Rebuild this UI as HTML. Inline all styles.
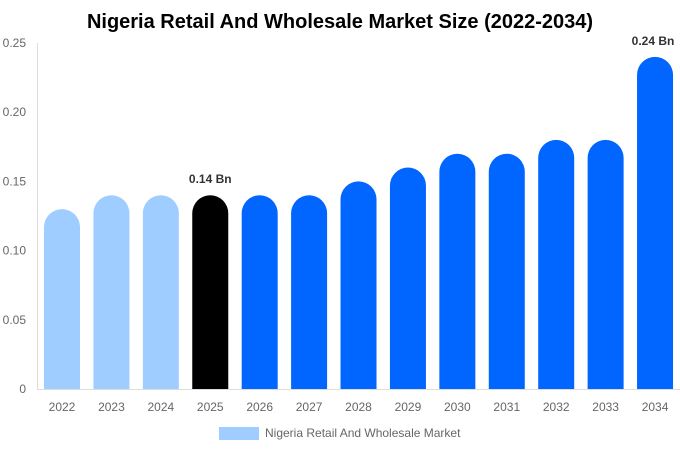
<!DOCTYPE html>
<html><head><meta charset="utf-8">
<style>
body{margin:0;background:#fff;font-family:"Liberation Sans",Arial,sans-serif;}
svg{display:block}
</style></head>
<body>
<svg id="chart" width="680" height="450">
<text x="340" y="28" text-anchor="middle" font-size="20" font-weight="bold" fill="#000">Nigeria Retail And Wholesale Market Size (2022-2034)</text>
<line x1="37.5" y1="43" x2="37.5" y2="389.5" stroke="#ddd"/>
<line x1="37" y1="389.5" x2="680" y2="389.5" stroke="#ddd"/>
<g id="yticks"></g>
<g id="bars"></g>
<g id="xlabels"></g>
<g id="labels"></g>
<rect x="219" y="427" width="40" height="13" fill="#a0cdff"/>
<text x="265" y="437" font-size="12" fill="#666">Nigeria Retail And Wholesale Market</text>
</svg>
<script>
const categories=["2022","2023","2024","2025","2026","2027","2028","2029","2030","2031","2032","2033","2034"];
const values=[0.13,0.14,0.14,0.14,0.14,0.14,0.15,0.16,0.17,0.17,0.18,0.18,0.24];
const colorGroups=["hist","hist","hist","current","fore","fore","fore","fore","fore","fore","fore","fore","fore"];
const yTicks=[0,0.05,0.10,0.15,0.20,0.25];
const yTickLabels=["0","0.05","0.10","0.15","0.20","0.25"];
const valueLabels={3:"0.14 Bn",12:"0.24 Bn"};
const ns="http://www.w3.org/2000/svg";
const y0=389,yMax=0.25,plotH=346;
function yScale(v){return y0-v/yMax*plotH;}
function xScale(i){return 62+i*49.42;}
const colors={hist:"#a0cdff",current:"#000000",fore:"#0066ff"};
const bw=36;
yTicks.forEach((t,i)=>{
  const tx=document.createElementNS(ns,"text");
  
  
  tx.setAttribute("x",26);tx.setAttribute("y",yScale(t)+4);
  tx.setAttribute("text-anchor","end");tx.setAttribute("font-size","12");tx.setAttribute("fill","#666");
  tx.textContent=yTickLabels[i];
  document.getElementById("yticks").appendChild(tx);
});
values.forEach((v,i)=>{
  const cx=xScale(i),top=yScale(v),r=bw/2,l=cx-r;
  const p=document.createElementNS(ns,"path");
  
  
  p.setAttribute("d",`M${l},${y0} L${l},${top+r} A${r},${r} 0 0 1 ${l+bw},${top+r} L${l+bw},${y0} Z`);
  p.setAttribute("fill",colors[colorGroups[i]]);
  document.getElementById("bars").appendChild(p);
  const tx=document.createElementNS(ns,"text");
  
  
  tx.setAttribute("x",cx);tx.setAttribute("y",411);
  tx.setAttribute("text-anchor","middle");tx.setAttribute("font-size","12");tx.setAttribute("fill","#666");
  tx.textContent=categories[i];
  document.getElementById("xlabels").appendChild(tx);
  if(valueLabels[i]){
    const lb=document.createElementNS(ns,"text");
    
    
    lb.setAttribute("x",Math.min(cx,653));lb.setAttribute("y",top-12);
    lb.setAttribute("text-anchor","middle");lb.setAttribute("font-size","12");lb.setAttribute("font-weight","bold");lb.setAttribute("fill","#333");
    lb.textContent=valueLabels[i];
    document.getElementById("labels").appendChild(lb);
  }
});
</script>
</body></html>
